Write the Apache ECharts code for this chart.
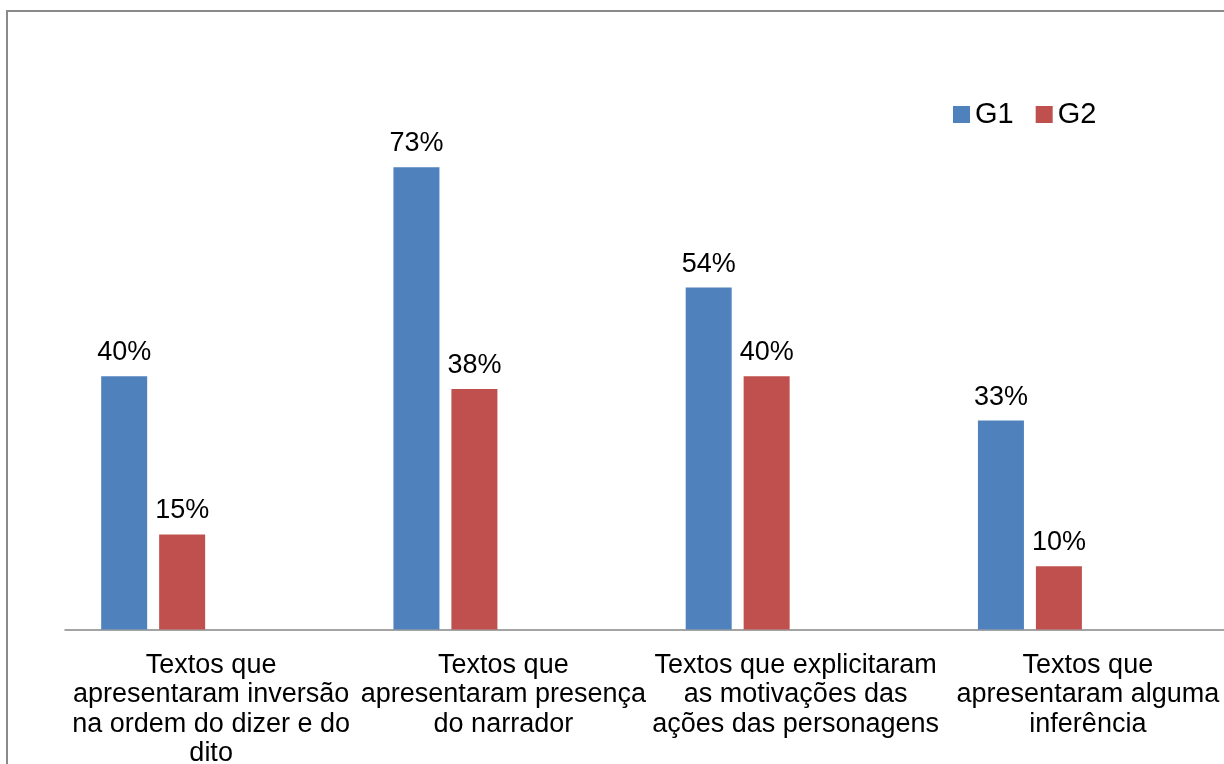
<!DOCTYPE html>
<html>
<head>
<meta charset="utf-8">
<script src="https://cdn.jsdelivr.net/npm/echarts@6/dist/echarts.min.js"></script>
<style>
  html, body { margin: 0; padding: 0; background: #fff; overflow: hidden; }
  #chart { width: 1224px; height: 764px; }
</style>
</head>
<body>
<div id="chart"></div>
<script>
// Categories (line breaks as printed under the axis)
const categories = [
  'Textos que\napresentaram inversão\nna ordem do dizer e do\ndito',
  'Textos que\napresentaram presença\ndo narrador',
  'Textos que explicitaram\nas motivações das\nações das personagens',
  'Textos que\napresentaram alguma\ninferência'
];
// Percentages per group
const g1Values = [40, 73, 54, 33];
const g2Values = [15, 38, 40, 10];
// Two unused slots per category (kept empty so the bars sit to the left of each slot)
const emptyValues = ['-', '-', '-', '-'];

const FONT = '"Liberation Sans", Arial, sans-serif';

const chart = echarts.init(document.getElementById('chart'), null, { renderer: 'canvas' });

const valueLabel = {
  show: true,
  position: 'top',
  distance: 10,
  formatter: '{c}%',
  color: '#000',
  fontFamily: FONT,
  fontSize: 27
};

chart.setOption({
  animation: false,
  backgroundColor: '#fff',
  graphic: [{
    type: 'rect',
    shape: { x: 7, y: 11, width: 1400, height: 900 },
    style: { fill: 'none', stroke: '#8a8a8a', lineWidth: 2 },
    silent: true,
    z: 100
  }],
  legend: {
    data: ['G1', 'G2'],
    left: 953,
    top: 100,
    padding: 0,
    itemWidth: 17,
    itemHeight: 17,
    itemGap: 22,
    icon: 'rect',
    textStyle: { color: '#000', fontFamily: FONT, fontSize: 29 }
  },
  grid: {
    left: 65, width: 1169, top: 123, height: 506.5,
    containLabel: false,
    outerBoundsMode: 'none'
  },
  xAxis: {
    type: 'category',
    data: categories,
    axisLine: { show: true, lineStyle: { color: '#868686', width: 1.5 } },
    axisTick: { show: false },
    axisLabel: {
      interval: 0,
      margin: 21,
      color: '#000',
      fontFamily: FONT,
      fontSize: 27,
      lineHeight: 29.5,
      align: 'center'
    }
  },
  yAxis: {
    type: 'value',
    min: 0,
    max: 80,
    show: false,
    splitLine: { show: false }
  },
  series: [
    { name: 'G1', type: 'bar', data: g1Values, barWidth: 46, barGap: '26%', barCategoryGap: '25%',
      itemStyle: { color: '#4F81BD' }, label: valueLabel },
    { name: 'G2', type: 'bar', data: g2Values, barWidth: 46,
      itemStyle: { color: '#C0504D' }, label: valueLabel },
    { name: 'vazio1', type: 'bar', data: emptyValues, barWidth: 46 },
    { name: 'vazio2', type: 'bar', data: emptyValues, barWidth: 46 }
  ]
});
</script>
</body>
</html>
